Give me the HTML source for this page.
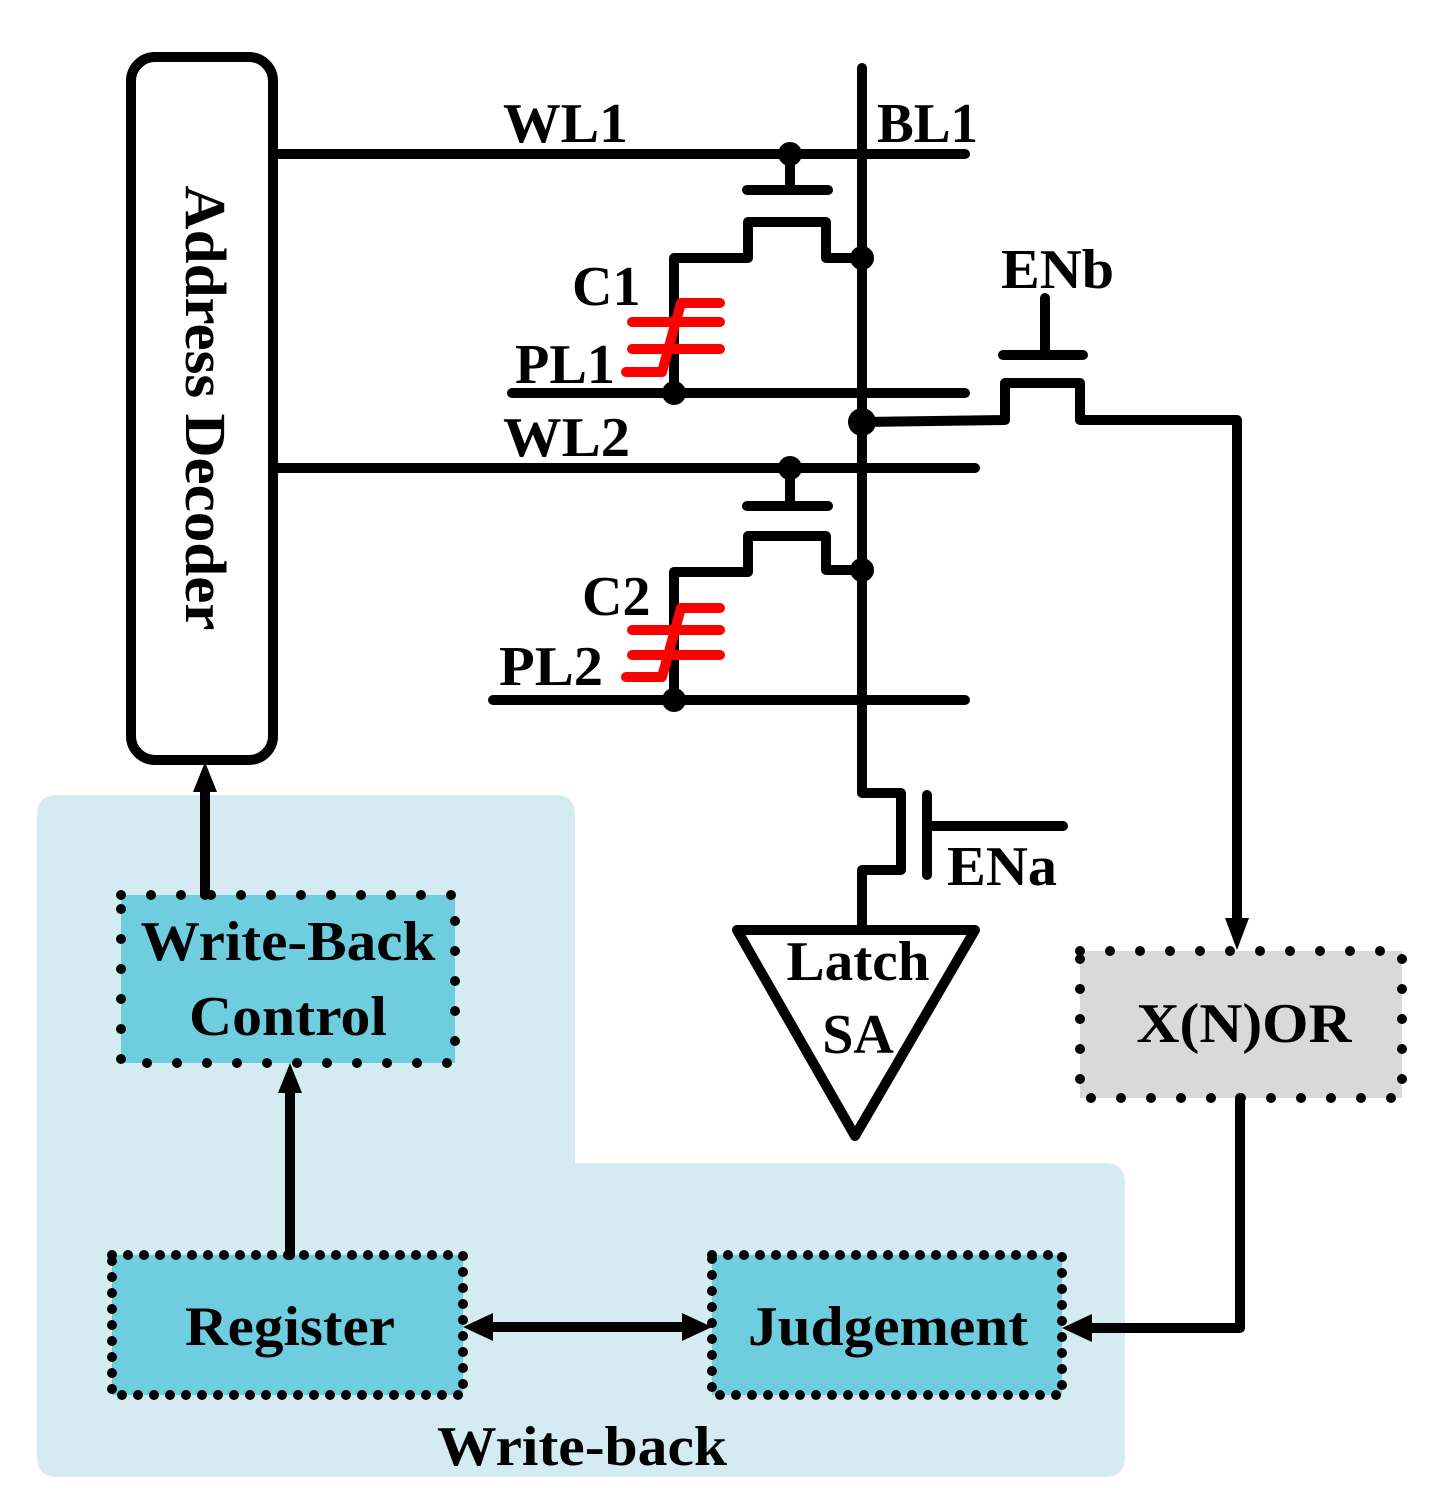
<!DOCTYPE html>
<html><head><style>html,body{margin:0;padding:0;background:#fff}svg{display:block}text{font-family:"Liberation Serif",serif;font-weight:bold;fill:#000}</style></head>
<body>
<svg width="1440" height="1510" viewBox="0 0 1440 1510" xmlns="http://www.w3.org/2000/svg">
<!-- light blue region -->
<path d="M57,795 H555 Q575,795 575,815 V1163 H1105 Q1125,1163 1125,1183 V1457 Q1125,1477 1105,1477 H57 Q37,1477 37,1457 V815 Q37,795 57,795 Z" fill="#d4ecf1"/>
<!-- boxes -->
<g stroke="#000" stroke-width="10" stroke-linecap="round" stroke-dasharray="0 30">
<rect x="121" y="895" width="334" height="168" fill="#6ecedf"/>
<rect x="112" y="1255" width="351" height="140" fill="#6ecedf" stroke-dasharray="0 16"/>
<rect x="712" y="1255" width="350" height="140" fill="#6ecedf" stroke-dasharray="0 16"/>
<rect x="1080" y="951" width="322" height="147" fill="#d9d9d9"/>
</g>
<text x="288" y="960" font-size="56" text-anchor="middle" textLength="295" lengthAdjust="spacingAndGlyphs">Write-Back</text>
<text x="288" y="1035" font-size="56" text-anchor="middle" textLength="198" lengthAdjust="spacingAndGlyphs">Control</text>
<text x="290" y="1345" font-size="56" text-anchor="middle" textLength="210" lengthAdjust="spacingAndGlyphs">Register</text>
<text x="888" y="1345" font-size="56" text-anchor="middle" textLength="280" lengthAdjust="spacingAndGlyphs">Judgement</text>
<text x="1244" y="1042" font-size="56" text-anchor="middle" textLength="215" lengthAdjust="spacingAndGlyphs">X(N)OR</text>
<text x="582" y="1465" font-size="56" text-anchor="middle" textLength="290" lengthAdjust="spacingAndGlyphs">Write-back</text>

<g stroke="#000" stroke-width="10" fill="none" stroke-linecap="round" stroke-linejoin="round">
<rect x="131" y="57" width="142" height="703" rx="24" fill="#fff"/>
<line x1="273" y1="154" x2="965" y2="154"/>
<line x1="273" y1="468" x2="975" y2="468"/>
<line x1="512" y1="393" x2="965" y2="393"/>
<line x1="493" y1="700" x2="965" y2="700"/>
<path d="M862,68 V793 H901 V870 H862 V927"/>
<line x1="927" y1="795" x2="927" y2="875"/>
<line x1="927" y1="826" x2="1063" y2="826"/>
<line x1="790" y1="154" x2="790" y2="190"/>
<line x1="747" y1="190" x2="828" y2="190"/>
<path d="M674,393 V258 H748 V222 H826 V258 H862"/>
<line x1="790" y1="468" x2="790" y2="504"/>
<line x1="747" y1="506" x2="828" y2="506"/>
<path d="M674,700 V572 H748 V536 H826 V570 H862"/>
<path d="M862,422 L1005,420 V383 H1080 V420 H1237 V935"/>
<line x1="1003" y1="355" x2="1083" y2="355"/>
<line x1="1045" y1="298" x2="1045" y2="355"/>
<path d="M1240,1098 V1328 H1078"/>
<polygon points="737,930 975,930 855,1136"/>
<line x1="205" y1="895" x2="205" y2="778"/>
<line x1="290" y1="1255" x2="290" y2="1080"/>
<line x1="480" y1="1327" x2="695" y2="1327"/>
</g>
<g fill="#000">
<polygon points="1237,950 1225,918 1249,918"/>
<polygon points="205,762 193,792 217,792"/>
<polygon points="290,1063 278,1093 302,1093"/>
<polygon points="463,1327 493,1313 493,1341"/>
<polygon points="712,1327 682,1313 682,1341"/>
<polygon points="1062,1328 1092,1314 1092,1342"/>
<circle cx="790" cy="154" r="12"/>
<circle cx="862" cy="258" r="12"/>
<circle cx="674" cy="393" r="12"/>
<circle cx="862" cy="422" r="14"/>
<circle cx="790" cy="468" r="12"/>
<circle cx="862" cy="570" r="12"/>
<circle cx="674" cy="700" r="12"/>
</g>
<g stroke="#f00" stroke-width="10" fill="none" stroke-linecap="round" stroke-linejoin="round">
<path d="M720,303 H681 L662,372 H626"/>
<line x1="632" y1="322" x2="720" y2="322"/>
<line x1="632" y1="349" x2="720" y2="349"/>
<path d="M720,608 H681 L662,677 H626"/>
<line x1="632" y1="630" x2="720" y2="630"/>
<line x1="632" y1="655" x2="720" y2="655"/>
</g>
<text x="205" y="408" font-size="58" text-anchor="middle" transform="rotate(90 205 408)" dy="19" textLength="445" lengthAdjust="spacingAndGlyphs">Address Decoder</text>
<text x="503" y="142" font-size="56" textLength="125" lengthAdjust="spacingAndGlyphs">WL1</text>
<text x="877" y="142" font-size="56" textLength="101" lengthAdjust="spacingAndGlyphs">BL1</text>
<text x="572" y="305" font-size="56">C1</text>
<text x="515" y="383" font-size="56" textLength="100" lengthAdjust="spacingAndGlyphs">PL1</text>
<text x="503" y="456" font-size="56" textLength="127" lengthAdjust="spacingAndGlyphs">WL2</text>
<text x="582" y="615" font-size="56">C2</text>
<text x="499" y="685" font-size="56" textLength="104" lengthAdjust="spacingAndGlyphs">PL2</text>
<text x="1001" y="288" font-size="56" textLength="113" lengthAdjust="spacingAndGlyphs">ENb</text>
<text x="947" y="885" font-size="56" textLength="110" lengthAdjust="spacingAndGlyphs">ENa</text>
<text x="858" y="980" font-size="56" text-anchor="middle" textLength="143" lengthAdjust="spacingAndGlyphs">Latch</text>
<text x="858" y="1053" font-size="56" text-anchor="middle">SA</text>
</svg>
</body></html>
